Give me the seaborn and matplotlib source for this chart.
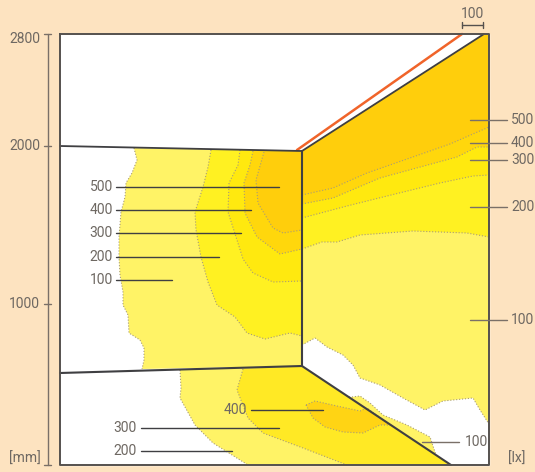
import matplotlib.pyplot as plt
import seaborn as sns

# room outline, picture coordinates
frame_x = [60, 489, 489, 60, 60]
frame_y = [34, 34, 465, 465, 34]
ceil_left_x, ceil_left_y = [60, 302], [146, 151]
floor_left_x, floor_left_y = [60, 302], [373, 366]
corner_x, corner_y = [302, 302], [151, 366]
ceil_right_x, ceil_right_y = [302, 484], [151, 34]
floor_right_x, floor_right_y = [302, 451], [366, 465]
orange_x, orange_y = [297, 462], [150, 34]

# left wall isolux lines
left100_x = [134, 137, 132, 126, 125, 121, 119, 119, 120, 123, 123, 128, 129, 140, 144, 144, 142]
left100_y = [148, 160, 173, 183, 197, 212, 237, 257, 275, 292, 305, 315, 333, 340, 348, 360, 369]
left200_x = [211, 208, 203, 195, 196, 201, 208, 217, 235, 247, 265, 290, 302]
left200_y = [150, 167, 187, 212, 230, 257, 282, 305, 317, 333, 339, 333, 336]
left300_x = [240, 238, 229, 228, 237, 243, 253, 273, 302]
left300_y = [150, 165, 183, 212, 240, 259, 273, 282, 281]
left400_x = [253, 250, 244, 245, 257, 280, 302]
left400_y = [151, 165, 183, 213, 237, 254, 249]
left500_x = [264, 256, 258, 273, 283, 302]
left500_y = [152, 180, 203, 228, 233, 230]

# right wall isolux lines
right100_x = [302, 322, 337, 360, 413, 467, 489]
right100_y = [249, 242, 242, 235, 231, 233, 237]
right200_x = [302, 347, 383, 440, 473, 489]
right200_y = [218, 206, 197, 183, 176, 175]
right300_x = [302, 333, 380, 457, 477, 489]
right300_y = [204, 198, 178, 157, 147, 147]
right400_x = [302, 333, 367, 450, 489]
right400_y = [195, 188, 173, 144, 127]
right_white_x = [302, 315, 327, 343, 353, 360, 380, 403, 425, 443, 473, 480, 489]
right_white_y = [345, 338, 347, 355, 365, 378, 385, 398, 410, 401, 398, 410, 424]

# floor isolux lines
floor100_x = [180, 181, 180, 195, 213, 248]
floor100_y = [370, 388, 398, 425, 443, 465]
floor200_x = [243, 237, 248, 263, 303, 347]
floor200_y = [369, 390, 418, 433, 448, 465]
floor400_x = [306, 315, 337, 360, 367, 390, 380, 363, 343, 325, 313, 306]
floor400_y = [405, 401, 406, 411, 408, 425, 425, 433, 432, 427, 418, 405]
tongue_x = [349, 352, 360, 370, 383, 407, 430, 436]
tongue_y = [397, 397, 396, 403, 415, 425, 437, 455]

# colours per level
col_100 = "#FFF366"
col_200 = "#FFF122"
col_300 = "#FFE90F"
col_400 = "#FFD70C"
col_500 = "#FFCE0C"
col_floor = "#FFE925"
col_blob = "#FFD414"
bg = "#FDE3C0"
ink = "#3F3F42"
txt = "#6E6862"
contour = "#A89C78"

# leader lines: label, x end, y
wall_labels = ["500", "400", "300", "200", "100"]
wall_x_end = [279, 251, 241, 219, 172]
wall_y = [187, 210, 233, 257, 280]
right_labels = ["500", "400", "300", "200", "100"]
right_y = [120, 143, 160, 207, 320]
floor_labels = ["400", "300", "200"]
floor_x_start = [251, 141, 141]
floor_x_end = [323, 279, 232]
floor_y = [410, 428, 451]

axis_labels = ["2800", "2000", "1000"]
axis_y = [34, 146, 304]

sns.set_style("white")
plt.rcParams["font.family"] = ["Roboto", "DejaVu Sans"]

fig = plt.figure(figsize=(5.35, 4.72), dpi=100, facecolor=bg)
ax = fig.add_axes([0, 0, 1, 1])
ax.set_xlim(0, 535)
ax.set_ylim(472, 0)
ax.axis("off")


def line(x, y, color=ink, lw=1.0, ls="-", z=5):
    sns.lineplot(x=x, y=y, sort=False, estimator=None, color=color, linewidth=lw,
                 linestyle=ls, ax=ax, zorder=z, legend=False)


def label(x, y, s, ha="left", color=txt):
    ax.text(x, y, s, ha=ha, va="center", fontsize=10, color=color, zorder=8)


ax.fill(frame_x, frame_y, color="white", zorder=1)

# left wall
ax.fill(left100_x + [302, 302], left100_y + [366, 151], color=col_100, zorder=2, lw=0)
ax.fill(left200_x + [302], left200_y + [151], color=col_200, zorder=2.1, lw=0)
ax.fill(left300_x + [302], left300_y + [151], color=col_300, zorder=2.2, lw=0)
ax.fill(left400_x + [302], left400_y + [151], color=col_400, zorder=2.3, lw=0)
ax.fill(left500_x + [302], left500_y + [151], color=col_500, zorder=2.4, lw=0)

# right wall
ax.fill([302, 484, 489] + right_white_x[::-1], [151, 34, 34] + right_white_y[::-1], color=col_100, zorder=2, lw=0)
ax.fill([302, 484, 489] + right100_x[::-1], [151, 34, 34] + right100_y[::-1], color=col_200, zorder=2.1, lw=0)
ax.fill([302, 484, 489] + right200_x[::-1], [151, 34, 34] + right200_y[::-1], color=col_300, zorder=2.2, lw=0)
ax.fill([302, 484, 489] + right300_x[::-1], [151, 34, 34] + right300_y[::-1], color=col_400, zorder=2.3, lw=0)
ax.fill([302, 484, 489] + right400_x[::-1], [151, 34, 34] + right400_y[::-1], color=col_500, zorder=2.4, lw=0)

# floor
ax.fill(floor100_x + [451, 302], floor100_y + [465, 366], color=col_100, zorder=2, lw=0)
ax.fill(floor200_x + [451, 302], floor200_y + [465, 366], color=col_floor, zorder=2.1, lw=0)
ax.fill(floor400_x, floor400_y, color=col_blob, zorder=2.2, lw=0)
ax.fill(tongue_x, tongue_y, color=col_100, zorder=2, lw=0)

for cx, cy in [(left100_x, left100_y), (left200_x, left200_y), (left300_x, left300_y),
               (left400_x, left400_y), (left500_x, left500_y), (right100_x, right100_y),
               (right200_x, right200_y), (right300_x, right300_y), (right400_x, right400_y),
               (right_white_x, right_white_y), (floor100_x, floor100_y), (floor200_x, floor200_y),
               (floor400_x, floor400_y), (tongue_x, tongue_y)]:
    line(cx, cy, color=contour, lw=0.8, ls=":", z=3)

line(frame_x, frame_y, color="#55514E", lw=1.4, z=6)
line(ceil_left_x, ceil_left_y, lw=1.3)
line(floor_left_x, floor_left_y, lw=1.5)
line(corner_x, corner_y, lw=1.5)
line(ceil_right_x, ceil_right_y, lw=1.3)
line(floor_right_x, floor_right_y, lw=1.5)
line(orange_x, orange_y, color="#F0642A", lw=1.8, z=4)

# dimension axis
line([48, 48], [34, 465], color="#7A7068", lw=1.0, z=4)
for y0, s in zip(axis_y, axis_labels):
    line([44, 51], [y0, y0], color="#7A7068", lw=1.0, z=4)
    label(40, y0 + 5 if s == "2800" else y0, s, ha="right")
line([44, 51], [465, 465], color="#7A7068", lw=1.0, z=4)
label(41, 459, "[mm]", ha="right")
label(525, 459, "[lx]", ha="right")

# scale bar
line([462, 483], [25, 25], color="#55514E", lw=1.0)
line([462, 462], [22, 28], color="#55514E", lw=1.0)
line([483, 483], [22, 28], color="#55514E", lw=1.0)
label(473, 14, "100", ha="center")

for s, xe, y0 in zip(wall_labels, wall_x_end, wall_y):
    line([116, xe], [y0, y0], lw=1.0, z=7)
    label(113, y0, s, ha="right")
for s, y0 in zip(right_labels, right_y):
    line([470, 507], [y0, y0], color="#7A7068", lw=1.0, z=7)
    label(511, y0, s)
for s, xs, xe, y0 in zip(floor_labels, floor_x_start, floor_x_end, floor_y):
    line([xs, xe], [y0, y0], lw=1.0, z=7)
    label(xs - 4, y0, s, ha="right")
line([422, 459], [442, 442], color="#7A7068", lw=1.0, z=7)
label(465, 442, "100")

fig.savefig("out.png", dpi=100, facecolor=bg)
